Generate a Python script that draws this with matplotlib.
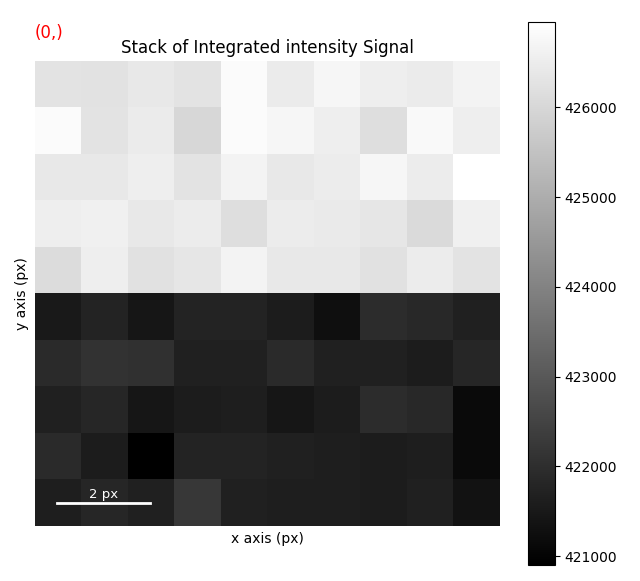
import numpy as np
import matplotlib
matplotlib.use("Agg")
import matplotlib.pyplot as plt

row0 = [426311, 426264, 426406, 426311, 426833, 426477, 426714, 426548, 426477, 426666]
row1 = [426833, 426311, 426477, 426002, 426833, 426714, 426548, 426168, 426785, 426548]
row2 = [426406, 426406, 426548, 426311, 426643, 426406, 426500, 426714, 426500, 426950]
row3 = [426548, 426595, 426406, 426500, 426168, 426500, 426453, 426358, 426073, 426595]
row4 = [426121, 426548, 426239, 426358, 426643, 426406, 426406, 426239, 426500, 426311]
row5 = [421493, 421730, 421422, 421730, 421730, 421564, 421256, 421968, 421849, 421659]
row6 = [421897, 422087, 422039, 421659, 421659, 421897, 421659, 421659, 421564, 421802]
row7 = [421659, 421802, 421422, 421564, 421612, 421422, 421564, 421968, 421849, 421137]
row8 = [421897, 421564, 420900, 421730, 421730, 421659, 421612, 421564, 421612, 421137]
row9 = [421612, 421802, 421659, 422205, 421659, 421612, 421612, 421564, 421659, 421327]
data = np.array([row0, row1, row2, row3, row4, row5, row6, row7, row8, row9])
cbar_ticks = [421000, 422000, 423000, 424000, 425000, 426000]

fig = plt.figure(figsize=(6.4, 5.81), dpi=100)
ax = fig.add_axes([35/640, 1-526/581, 465/640, 465/581])
im = ax.imshow(data, cmap="gray", interpolation="nearest", aspect="auto",
               vmin=420900, vmax=426950)
ax.set_xticks([]); ax.set_yticks([])
for s in ax.spines.values():
    s.set_visible(False)
ax.set_xlabel("x axis (px)")
ax.set_ylabel("y axis (px)")
ax.set_title("Stack of Integrated intensity Signal")
fig.text(35/640, 1-33/581, "(0,)", color="red", fontsize=12, va="center")
ax.plot([-0.02, 1.98], [9.0, 9.0], color="white", lw=2)
ax.text(0.98, 8.82, "2 px", color="white", ha="center", va="center", fontsize=9.5)
ax.set_xlim(-0.5, 9.5); ax.set_ylim(9.5, -0.5)
cax = fig.add_axes([528/640, 1-565/581, 27/640, 543/581])
cb = fig.colorbar(im, cax=cax, ticks=cbar_ticks)
fig.savefig("out.png", dpi=100)
